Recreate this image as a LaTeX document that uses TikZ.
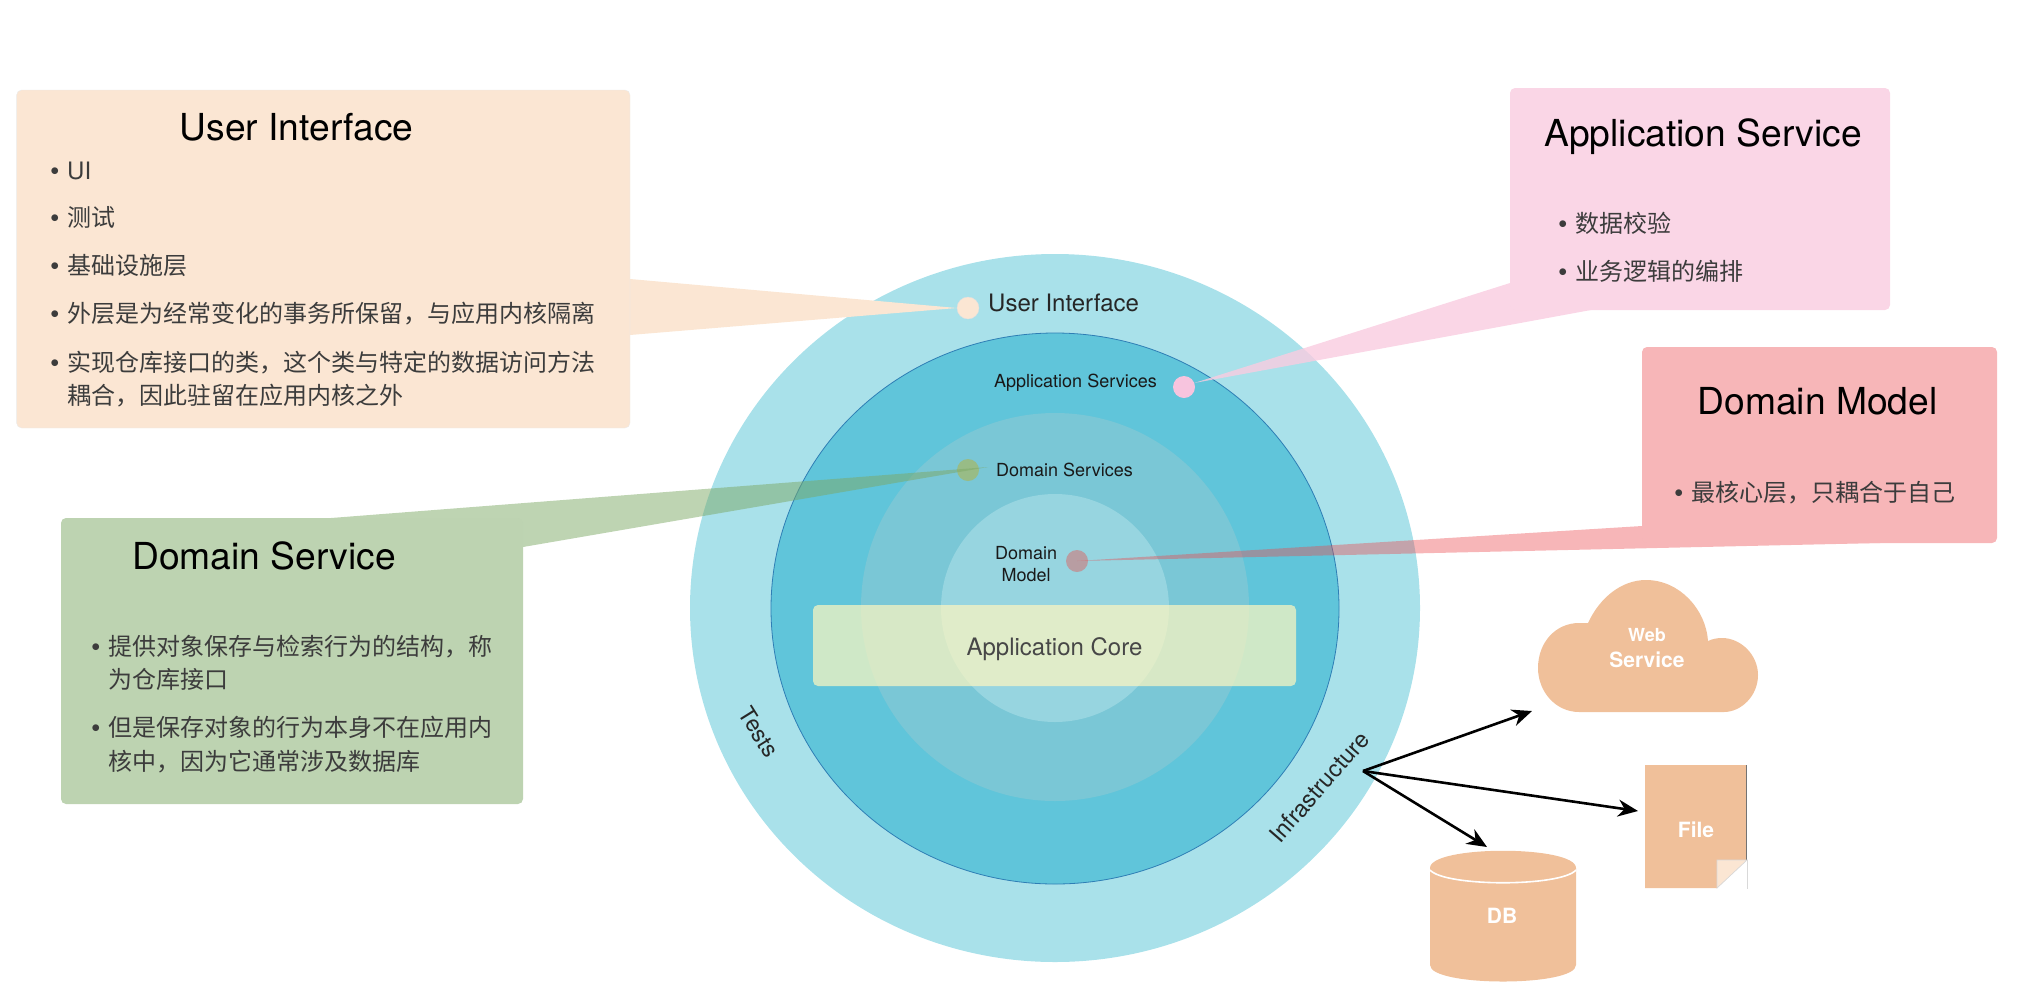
\documentclass[tikz,border=0pt]{standalone}
\usepackage{fontspec}
\usepackage{xcolor}
\usetikzlibrary{calc,arrows.meta}
\setmainfont{TeX Gyre Heros}
\newfontfamily\cjk{Noto Sans CJK SC}

\definecolor{outerblue}{HTML}{A9E1EA}
\definecolor{midblue}{HTML}{60C5DA}
\definecolor{edgeblue}{HTML}{2E7EB5}
\definecolor{servblue}{HTML}{7AC7D6}
\definecolor{coreblue}{HTML}{97D5E0}
\definecolor{corebox}{HTML}{FFF7C0}
\definecolor{uifill}{HTML}{FBE6D3}
\definecolor{dsfill}{HTML}{BDD3B1}
\definecolor{dsptr}{HTML}{7DA966}
\definecolor{dsdotfill}{HTML}{98BC86}
\definecolor{asfill}{HTML}{FAD6E6}
\definecolor{asptr}{HTML}{F9CCE0}
\definecolor{asdotfill}{HTML}{F7C4DE}
\definecolor{dmfill}{HTML}{F7B6B8}
\definecolor{dmptr}{HTML}{EB484D}
\definecolor{dmdotfill}{HTML}{B89DA2}
\definecolor{store}{HTML}{F0C09A}
\definecolor{bodygray}{HTML}{3C3C3C}

\newcommand{\bul}{\makebox[17pt][l]{\normalfont\fontsize{27}{29}\selectfont\raisebox{-1pt}{\textbullet}}}

\begin{document}
\begin{tikzpicture}[
            x = 1pt, y = -1pt, % picture is laid out in reference pixels
            > = {Stealth[length=20pt,width=17pt]}, % arrow head style
            notebox/.style = {shape=rectangle, rounded corners=5pt, inner sep=0pt},
            dotnode/.style = {shape=circle, minimum size=22pt, inner sep=0pt},
            titletext/.style = {anchor=base, inner sep=0pt, font=\fontsize{37.2}{44}\selectfont},
            bodytext/.style = {anchor=base west, inner sep=0pt, text=bodygray, font=\fontsize{24}{29}\selectfont\cjk},
            ringlabel/.style = {inner sep=0pt, text=black!90, font=\fontsize{18}{22}\selectfont},
            biglabel/.style = {inner sep=0pt, text=black!85, font=\fontsize{24}{29}\selectfont},
            storetext/.style = {anchor=base, inner sep=0pt, text=white, font=\bfseries\fontsize{21}{25}\selectfont},
            fetch/.style = {->, line width=2.6pt}
        ]
\useasboundingbox (0,0) rectangle (2018,994);

% rings
\fill[outerblue] (1055,608) ellipse [x radius=365pt, y radius=354pt];
\filldraw[fill=midblue, draw=edgeblue, line width=0.8pt] (1055,608.5) ellipse [x radius=284pt, y radius=275.5pt];
\fill[servblue] (1055,607) ellipse [x radius=194pt, y radius=194pt];
\fill[coreblue] (1055,608) ellipse [x radius=114pt, y radius=114pt];
\node[notebox, fill=corebox, fill opacity=0.7, minimum width=483pt, minimum height=81pt] (corebar) at (1054.5,645.5) {};
\node[biglabel, anchor=base, text=black!72] (coretext) at (1054.5,655) {Application Core};

% dots
\node[dotnode, fill=uifill, draw=black!12, line width=0.4pt] (uidot) at (968,308) {};
\node[dotnode, fill=asdotfill] (asdot) at (1184,387) {};
\node[dotnode, fill=dsdotfill] (dsdot) at (968,470) {};
\node[dotnode, fill=dmdotfill] (dmdot) at (1077,561) {};

% pointers, their wide ends are hidden below the boxes
\fill[uifill] (630,279) -- (uidot.west) -- (630,335) -- (600,307) -- cycle;
\fill[dsptr, fill opacity=0.5] (331,518) -- ($(dsdot.east)+(9,-3)$) -- (523,547) -- (450,560) -- cycle;
\fill[asptr, fill opacity=0.8] (1510,283) -- ($(asdot.east)+(-1,-4)$) -- (1591,310) -- (1560,280) -- cycle;
\fill[dmptr, fill opacity=0.4] (1642,526) -- (dmdot.center) -- (1880,543) -- (1750,500) -- cycle;

% boxes
\node[notebox, fill=uifill, draw=black!8, line width=0.4pt, minimum width=613.4pt, minimum height=338pt] (uibox) at (323.3,259) {};
\node[notebox, fill=dsfill, minimum width=462pt, minimum height=286pt] (dsbox) at (292,661) {};
\node[notebox, fill=asfill, minimum width=380pt, minimum height=222pt] (asbox) at (1700,199) {};
\node[notebox, fill=dmfill, minimum width=355pt, minimum height=196pt] (dmbox) at (1819.5,445) {};

% user interface box
\node[titletext] (uititle) at (296.5,140) {User Interface};
\node[bodytext, font=\fontsize{24}{29}\selectfont] (ui1) at (50,179) {\bul UI};
\node[bodytext] (ui2) at (50,226) {\bul 测试};
\node[bodytext] (ui3) at (50,274) {\bul 基础设施层};
\node[bodytext] (ui4) at (50,322) {\bul 外层是为经常变化的事务所保留，与应用内核隔离};
\node[bodytext] (ui5) at (50,371) {\bul 实现仓库接口的类，这个类与特定的数据访问方法};
\node[bodytext] (ui6) at (67,404) {耦合，因此驻留在应用内核之外};

% domain service box
\node[titletext] (dstitle) at (264,569) {Domain Service};
\node[bodytext] (ds1) at (91,655) {\bul 提供对象保存与检索行为的结构，称};
\node[bodytext] (ds2) at (108,688) {为仓库接口};
\node[bodytext] (ds3) at (91,736) {\bul 但是保存对象的行为本身不在应用内};
\node[bodytext] (ds4) at (108,770) {核中，因为它通常涉及数据库};

% application service box
\node[titletext] (astitle) at (1703,146) {Application Service};
\node[bodytext] (as1) at (1558,232) {\bul 数据校验};
\node[bodytext] (as2) at (1558,280) {\bul 业务逻辑的编排};

% domain model box
\node[titletext] (dmtitle) at (1817.5,414) {Domain Model};
\node[bodytext] (dm1) at (1674,501) {\bul 最核心层，只耦合于自己};

% ring labels
\node[biglabel, anchor=base west] (uilabel) at (988,311) {User Interface};
\node[ringlabel, anchor=base west] (aslabel) at (994,387) {Application Services};
\node[ringlabel, anchor=base west] (dslabel) at (996,476) {Domain Services};
\node[ringlabel, anchor=base] (dmlabel1) at (1026,559) {Domain};
\node[ringlabel, anchor=base] (dmlabel2) at (1026,581) {Model};
\node[biglabel, rotate=-58, font=\fontsize{23}{28}\selectfont] (tests) at (759,732) {Tests};
\node[biglabel, rotate=49, font=\fontsize{23.5}{28}\selectfont] (infra) at (1319,787) {Infrastructure};

% web service
\fill[store] (1579,712) .. controls (1556,712) and (1538,692) .. (1538,668)
    .. controls (1538,642) and (1556,623) .. (1579,623) -- (1588,623)
    .. controls (1600,597) and (1622,580) .. (1646,580)
    .. controls (1680,580) and (1706,610) .. (1708,641)
    .. controls (1712,639) and (1717,638) .. (1722,638)
    .. controls (1741,638) and (1758,655) .. (1758,675)
    .. controls (1758,696) and (1741,712) .. (1724,712) -- cycle;
\node[storetext, font=\bfseries\fontsize{18}{22}\selectfont] (webtext) at (1647,641) {Web};
\node[storetext] (servicetext) at (1647,667) {Service};

% file
\fill[store] (1645,765) -- (1746.5,765) -- (1746.5,860) -- (1717,888) -- (1645,888) -- cycle;
\draw[black!55, line width=0.6pt] (1746.5,765) -- (1746.5,860);
\filldraw[fill=uifill, draw=black!15, line width=0.7pt] (1717,860) -- (1747,860) -- (1717,888) -- cycle;
\draw[black!15, line width=0.7pt] (1747,860) -- (1747,889);
\node[storetext] (filetext) at (1696,837) {File};

% db
\fill[store] (1430,868) .. controls (1430,845) and (1576,845) .. (1576,868) -- (1576,965)
    .. controls (1576,987) and (1430,987) .. (1430,965) -- cycle;
\draw[white, line width=1.6pt] (1430,870) .. controls (1445,887) and (1561,887) .. (1576,870);
\node[storetext] (dbtext) at (1502,923) {DB};

% arrows out of infrastructure
\coordinate (fork) at (1363,771);
\coordinate (webtip) at (1532,711);
\coordinate (filetip) at (1638,811);
\coordinate (dbtip) at (1487,847);
\draw[fetch] (fork) -- (webtip);
\draw[fetch] (fork) -- (filetip);
\draw[fetch] (fork) -- (dbtip);
\end{tikzpicture}
\end{document}
